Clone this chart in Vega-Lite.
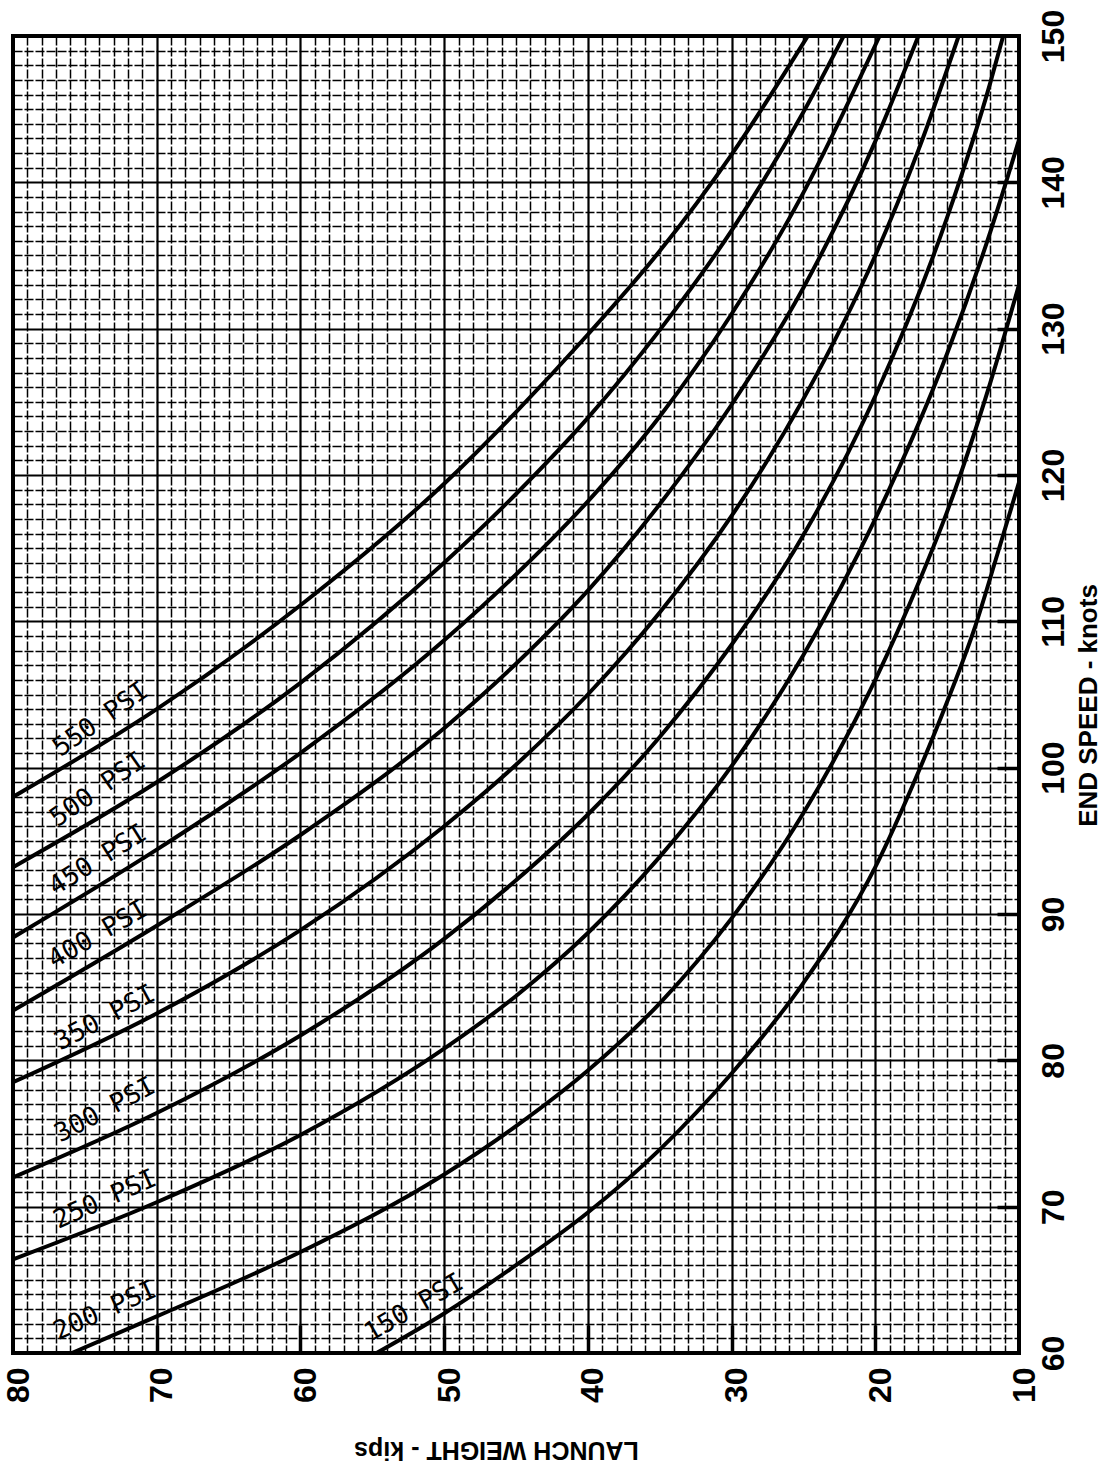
{
  "$schema": "https://vega.github.io/schema/vega-lite/v6.json",
  "width": 1006,
  "height": 1317,
  "autosize": "none",
  "padding": {"left": 13, "top": 36, "right": 83, "bottom": 114},
  "background": "white",
  "config": {
    "view": {"stroke": "black", "strokeWidth": 4},
    "font": "Liberation Sans"
  },
  "datasets": {
    "curves": [
      {"pressure": "550 PSI", "weight": 80, "speed": 98.0},
      {"pressure": "550 PSI", "weight": 70, "speed": 104.0},
      {"pressure": "550 PSI", "weight": 60, "speed": 111.1},
      {"pressure": "550 PSI", "weight": 50, "speed": 119.4},
      {"pressure": "550 PSI", "weight": 45, "speed": 124.3},
      {"pressure": "550 PSI", "weight": 40, "speed": 129.6},
      {"pressure": "550 PSI", "weight": 35, "speed": 135.3},
      {"pressure": "550 PSI", "weight": 30, "speed": 141.9},
      {"pressure": "550 PSI", "weight": 24.7, "speed": 150.0},

      {"pressure": "500 PSI", "weight": 80, "speed": 93.2},
      {"pressure": "500 PSI", "weight": 70, "speed": 99.0},
      {"pressure": "500 PSI", "weight": 60, "speed": 105.8},
      {"pressure": "500 PSI", "weight": 50, "speed": 114.0},
      {"pressure": "500 PSI", "weight": 45, "speed": 118.7},
      {"pressure": "500 PSI", "weight": 40, "speed": 123.9},
      {"pressure": "500 PSI", "weight": 35, "speed": 129.9},
      {"pressure": "500 PSI", "weight": 30, "speed": 136.7},
      {"pressure": "500 PSI", "weight": 25, "speed": 144.8},
      {"pressure": "500 PSI", "weight": 22.2, "speed": 150.0},

      {"pressure": "450 PSI", "weight": 80, "speed": 88.4},
      {"pressure": "450 PSI", "weight": 70, "speed": 94.4},
      {"pressure": "450 PSI", "weight": 60, "speed": 101.0},
      {"pressure": "450 PSI", "weight": 50, "speed": 108.7},
      {"pressure": "450 PSI", "weight": 45, "speed": 113.2},
      {"pressure": "450 PSI", "weight": 40, "speed": 118.2},
      {"pressure": "450 PSI", "weight": 35, "speed": 124.0},
      {"pressure": "450 PSI", "weight": 30, "speed": 131.0},
      {"pressure": "450 PSI", "weight": 25, "speed": 139.3},
      {"pressure": "450 PSI", "weight": 19.7, "speed": 150.0},

      {"pressure": "400 PSI", "weight": 80, "speed": 83.4},
      {"pressure": "400 PSI", "weight": 70, "speed": 89.2},
      {"pressure": "400 PSI", "weight": 60, "speed": 95.4},
      {"pressure": "400 PSI", "weight": 50, "speed": 102.7},
      {"pressure": "400 PSI", "weight": 45, "speed": 107.1},
      {"pressure": "400 PSI", "weight": 40, "speed": 112.1},
      {"pressure": "400 PSI", "weight": 35, "speed": 118.0},
      {"pressure": "400 PSI", "weight": 30, "speed": 124.8},
      {"pressure": "400 PSI", "weight": 25, "speed": 132.8},
      {"pressure": "400 PSI", "weight": 20, "speed": 142.8},
      {"pressure": "400 PSI", "weight": 17, "speed": 150.0},

      {"pressure": "350 PSI", "weight": 80, "speed": 78.5},
      {"pressure": "350 PSI", "weight": 70, "speed": 83.2},
      {"pressure": "350 PSI", "weight": 60, "speed": 88.9},
      {"pressure": "350 PSI", "weight": 50, "speed": 96.0},
      {"pressure": "350 PSI", "weight": 45, "speed": 100.2},
      {"pressure": "350 PSI", "weight": 40, "speed": 105.0},
      {"pressure": "350 PSI", "weight": 35, "speed": 110.6},
      {"pressure": "350 PSI", "weight": 30, "speed": 117.2},
      {"pressure": "350 PSI", "weight": 25, "speed": 125.2},
      {"pressure": "350 PSI", "weight": 20, "speed": 135.0},
      {"pressure": "350 PSI", "weight": 17, "speed": 142.2},
      {"pressure": "350 PSI", "weight": 14.2, "speed": 150.0},

      {"pressure": "300 PSI", "weight": 80, "speed": 72.0},
      {"pressure": "300 PSI", "weight": 70, "speed": 76.4},
      {"pressure": "300 PSI", "weight": 60, "speed": 81.7},
      {"pressure": "300 PSI", "weight": 50, "speed": 88.3},
      {"pressure": "300 PSI", "weight": 45, "speed": 92.3},
      {"pressure": "300 PSI", "weight": 40, "speed": 96.8},
      {"pressure": "300 PSI", "weight": 35, "speed": 102.1},
      {"pressure": "300 PSI", "weight": 30, "speed": 108.4},
      {"pressure": "300 PSI", "weight": 25, "speed": 115.9},
      {"pressure": "300 PSI", "weight": 20, "speed": 125.4},
      {"pressure": "300 PSI", "weight": 15, "speed": 137.6},
      {"pressure": "300 PSI", "weight": 12, "speed": 146.8},
      {"pressure": "300 PSI", "weight": 11.1, "speed": 150.0},

      {"pressure": "250 PSI", "weight": 80, "speed": 66.4},
      {"pressure": "250 PSI", "weight": 70, "speed": 70.3},
      {"pressure": "250 PSI", "weight": 60, "speed": 74.9},
      {"pressure": "250 PSI", "weight": 50, "speed": 80.8},
      {"pressure": "250 PSI", "weight": 45, "speed": 84.4},
      {"pressure": "250 PSI", "weight": 40, "speed": 88.7},
      {"pressure": "250 PSI", "weight": 35, "speed": 93.9},
      {"pressure": "250 PSI", "weight": 30, "speed": 100.1},
      {"pressure": "250 PSI", "weight": 25, "speed": 107.7},
      {"pressure": "250 PSI", "weight": 20, "speed": 117.0},
      {"pressure": "250 PSI", "weight": 15, "speed": 128.3},
      {"pressure": "250 PSI", "weight": 12, "speed": 136.6},
      {"pressure": "250 PSI", "weight": 10, "speed": 142.9},

      {"pressure": "200 PSI", "weight": 75.9, "speed": 60.0},
      {"pressure": "200 PSI", "weight": 70, "speed": 62.5},
      {"pressure": "200 PSI", "weight": 60, "speed": 66.9},
      {"pressure": "200 PSI", "weight": 50, "speed": 72.2},
      {"pressure": "200 PSI", "weight": 45, "speed": 75.5},
      {"pressure": "200 PSI", "weight": 40, "speed": 79.3},
      {"pressure": "200 PSI", "weight": 35, "speed": 83.9},
      {"pressure": "200 PSI", "weight": 30, "speed": 89.7},
      {"pressure": "200 PSI", "weight": 25, "speed": 96.9},
      {"pressure": "200 PSI", "weight": 20, "speed": 106.0},
      {"pressure": "200 PSI", "weight": 17, "speed": 112.6},
      {"pressure": "200 PSI", "weight": 15, "speed": 117.5},
      {"pressure": "200 PSI", "weight": 12, "speed": 126.3},
      {"pressure": "200 PSI", "weight": 10, "speed": 133.0},

      {"pressure": "150 PSI", "weight": 54.7, "speed": 60.0},
      {"pressure": "150 PSI", "weight": 50, "speed": 62.7},
      {"pressure": "150 PSI", "weight": 45, "speed": 66.0},
      {"pressure": "150 PSI", "weight": 40, "speed": 69.6},
      {"pressure": "150 PSI", "weight": 35, "speed": 73.9},
      {"pressure": "150 PSI", "weight": 30, "speed": 79.1},
      {"pressure": "150 PSI", "weight": 25, "speed": 85.3},
      {"pressure": "150 PSI", "weight": 20, "speed": 93.2},
      {"pressure": "150 PSI", "weight": 17, "speed": 99.7},
      {"pressure": "150 PSI", "weight": 15, "speed": 104.5},
      {"pressure": "150 PSI", "weight": 13, "speed": 109.8},
      {"pressure": "150 PSI", "weight": 11.5, "speed": 114.6},
      {"pressure": "150 PSI", "weight": 10, "speed": 119.5}
    ],
    "labels": [
      {"pressure": "550 PSI", "weight": 73.9, "speed": 103.3},
      {"pressure": "500 PSI", "weight": 74.1, "speed": 98.5},
      {"pressure": "450 PSI", "weight": 74.1, "speed": 93.7},
      {"pressure": "400 PSI", "weight": 74.1, "speed": 88.6},
      {"pressure": "350 PSI", "weight": 73.6, "speed": 82.9},
      {"pressure": "300 PSI", "weight": 73.6, "speed": 76.6},
      {"pressure": "250 PSI", "weight": 73.6, "speed": 70.5},
      {"pressure": "200 PSI", "weight": 73.6, "speed": 62.9},
      {"pressure": "150 PSI", "weight": 52.1, "speed": 63.1}
    ]
  },
  "resolve": {"axis": {"x": "independent", "y": "independent"}},
  "layer": [
    {
      "data": {"name": "curves"},
      "mark": {"type": "line", "interpolate": "monotone", "stroke": "black", "strokeWidth": 4, "clip": true},
      "encoding": {
        "x": {
          "field": "weight",
          "type": "quantitative",
          "scale": {"domain": [10, 80], "reverse": true, "nice": false, "zero": false},
          "axis": {
            "orient": "bottom",
            "tickCount": 70,
            "grid": true,
            "gridColor": "black",
            "gridOpacity": 1,
            "gridWidth": {"condition": {"test": "datum.value % 10 === 0", "value": 2.2}, "value": 1.5},
            "gridDash": {"condition": {"test": "datum.value % 10 === 0", "value": []}, "value": [9, 2]},
            "domain": false,
            "ticks": true,
            "tickSize": -28,
            "tickWidth": 3.5,
            "tickColor": "black",
            "tickOpacity": {"condition": {"test": "datum.value % 10 === 0 && datum.value > 10 && datum.value < 80", "value": 1}, "value": 0},
            "labelExpr": "datum.value % 10 === 0 ? datum.label : ''",
            "labelAngle": 270,
            "labelAlign": "right",
            "labelBaseline": "middle",
            "labelPadding": 42,
            "labelOffset": 5,
            "labelFlush": false,
            "labelOverlap": false,
            "labelBound": false,
            "labelFont": "Liberation Sans",
            "labelFontWeight": "bold",
            "labelFontSize": 32,
            "labelColor": "black",
            "title": "LAUNCH WEIGHT - kips",
            "titleAngle": 180,
            "titleX": 483,
            "titleY": 96,
            "titleAlign": "center",
            "titleBaseline": "middle",
            "titleFont": "Liberation Sans",
            "titleFontSize": 25,
            "titleFontWeight": "bold",
            "titleColor": "black"
          }
        },
        "y": {
          "field": "speed",
          "type": "quantitative",
          "scale": {"domain": [60, 150], "nice": false, "zero": false},
          "axis": {
            "orient": "right",
            "tickCount": 90,
            "grid": true,
            "gridColor": "black",
            "gridOpacity": 1,
            "gridWidth": {"condition": {"test": "datum.value % 10 === 0", "value": 2.2}, "value": 1.5},
            "gridDash": {"condition": {"test": "datum.value % 10 === 0", "value": []}, "value": [9, 2]},
            "domain": false,
            "ticks": true,
            "tickSize": -22,
            "tickWidth": 3.5,
            "tickColor": "black",
            "tickOpacity": {"condition": {"test": "datum.value % 10 === 0 && datum.value > 60 && datum.value < 150", "value": 1}, "value": 0},
            "labelExpr": "datum.value % 10 === 0 ? datum.label : ''",
            "labelAngle": 270,
            "labelAlign": "center",
            "labelBaseline": "top",
            "labelPadding": 41,
            "labelFlush": false,
            "labelOverlap": false,
            "labelBound": false,
            "labelFont": "Liberation Sans",
            "labelFontWeight": "bold",
            "labelFontSize": 32,
            "labelColor": "black",
            "title": "END SPEED - knots",
            "titleAngle": 270,
            "titleX": 69,
            "titleY": 669,
            "titleAlign": "center",
            "titleBaseline": "middle",
            "titleFont": "Liberation Sans",
            "titleFontSize": 26,
            "titleFontWeight": "bold",
            "titleColor": "black"
          }
        },
        "detail": {"field": "pressure", "type": "nominal"},
        "order": {"field": "weight", "sort": "descending"}
      }
    },
    {
      "data": {"name": "labels"},
      "transform": [{"filter": {"field": "pressure", "oneOf": ["550 PSI", "500 PSI"]}}],
      "mark": {"type": "text", "angle": 325, "font": "DejaVu Sans Mono", "fontSize": 26, "align": "center", "baseline": "middle", "color": "black"},
      "encoding": {
        "x": {"field": "weight", "type": "quantitative", "axis": null},
        "y": {"field": "speed", "type": "quantitative", "axis": null},
        "text": {"field": "pressure"}
      }
    },
    {
      "data": {"name": "labels"},
      "transform": [{"filter": {"field": "pressure", "oneOf": ["450 PSI"]}}],
      "mark": {"type": "text", "angle": 328, "font": "DejaVu Sans Mono", "fontSize": 26, "align": "center", "baseline": "middle", "color": "black"},
      "encoding": {
        "x": {"field": "weight", "type": "quantitative", "axis": null},
        "y": {"field": "speed", "type": "quantitative", "axis": null},
        "text": {"field": "pressure"}
      }
    },
    {
      "data": {"name": "labels"},
      "transform": [{"filter": {"field": "pressure", "oneOf": ["400 PSI", "150 PSI"]}}],
      "mark": {"type": "text", "angle": 330, "font": "DejaVu Sans Mono", "fontSize": 26, "align": "center", "baseline": "middle", "color": "black"},
      "encoding": {
        "x": {"field": "weight", "type": "quantitative", "axis": null},
        "y": {"field": "speed", "type": "quantitative", "axis": null},
        "text": {"field": "pressure"}
      }
    },
    {
      "data": {"name": "labels"},
      "transform": [{"filter": {"field": "pressure", "oneOf": ["350 PSI", "300 PSI"]}}],
      "mark": {"type": "text", "angle": 332, "font": "DejaVu Sans Mono", "fontSize": 26, "align": "center", "baseline": "middle", "color": "black"},
      "encoding": {
        "x": {"field": "weight", "type": "quantitative", "axis": null},
        "y": {"field": "speed", "type": "quantitative", "axis": null},
        "text": {"field": "pressure"}
      }
    },
    {
      "data": {"name": "labels"},
      "transform": [{"filter": {"field": "pressure", "oneOf": ["250 PSI", "200 PSI"]}}],
      "mark": {"type": "text", "angle": 336, "font": "DejaVu Sans Mono", "fontSize": 26, "align": "center", "baseline": "middle", "color": "black"},
      "encoding": {
        "x": {"field": "weight", "type": "quantitative", "axis": null},
        "y": {"field": "speed", "type": "quantitative", "axis": null},
        "text": {"field": "pressure"}
      }
    }
  ]
}
